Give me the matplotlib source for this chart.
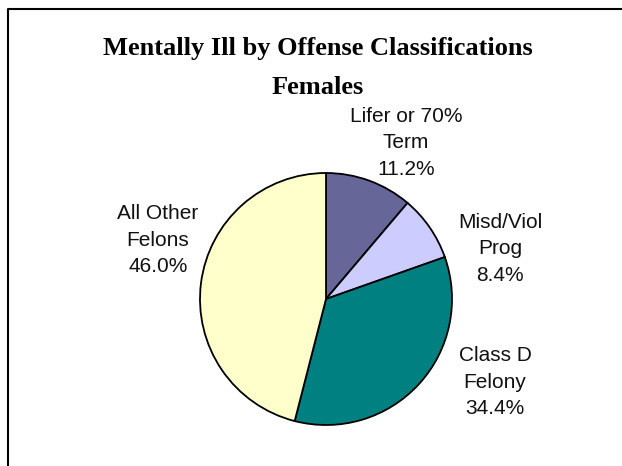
import matplotlib
matplotlib.use("Agg")
from matplotlib import pyplot as plt

# data
labels = ["Lifer or 70%\nTerm", "Misd/Viol\nProg", "Class D\nFelony", "All Other\nFelons"]
shares = [11.2, 8.4, 34.4, 46.0]
colors = ["#666699", "#CCCCFF", "#008080", "#FFFFCC"]
title = "Mentally Ill by Offense Classifications\nFemales"

# layout (pixels, y measured from the bottom)
W, H = 622, 466
center = (326, H - 299)
radius = 126
label_xy = [(406, H - 143), (500, H - 249), (495, H - 382), (158, H - 240)]

fig = plt.figure(figsize=(W / 100, H / 100), dpi=100)
ax = fig.add_axes([0, 0, 1, 1])

wedges, _ = ax.pie(shares, colors=colors, startangle=90, counterclock=False,
                   center=center, radius=radius,
                   wedgeprops=dict(edgecolor="black", linewidth=1.3))

for lab, val, (x, y) in zip(labels, shares, label_xy):
    ax.text(x, y, f"{lab}\n{val:.1f}%", ha="center", va="center",
            fontsize=15, family="Liberation Sans", linespacing=1.52,
            color="#111111")

ax.text(318, H - 68, title, ha="center", va="center", fontsize=19,
        family="Liberation Serif", fontweight="bold", linespacing=1.85)

# chart border, cut by the right and bottom edges
ax.plot([7.5, 7.5, W + 5], [-5, H - 8.5, H - 8.5], color="black", lw=1.5,
        clip_on=False)

ax.set_xlim(0, W)
ax.set_ylim(0, H)
ax.set_aspect("auto")
ax.axis("off")

fig.savefig("out.png", dpi=100)
